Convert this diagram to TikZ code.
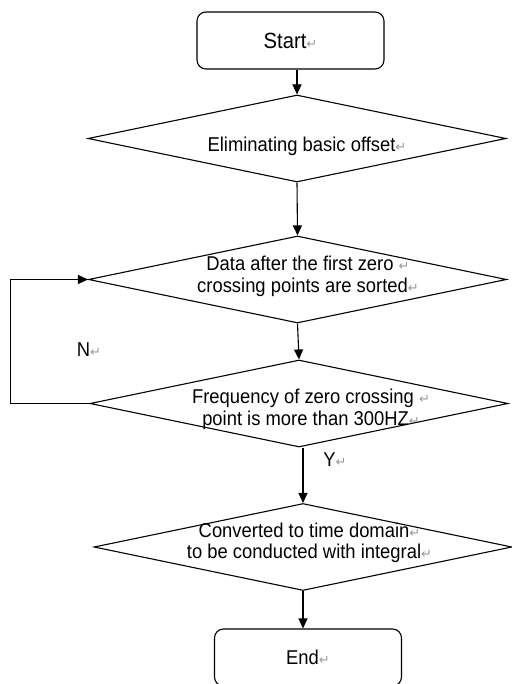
\documentclass[tikz,border=0pt]{standalone}
\usepackage{fontspec}
\setmainfont{Liberation Sans}[FakeStretch=0.92]
\newfontfamily\markfont{DejaVu Sans}
\usetikzlibrary{shapes.geometric,arrows.meta}
\newcommand\pmark{{\markfont\fontsize{13}{13}\selectfont\color{gray!80}↵}}

\begin{document}
\begin{tikzpicture}[y=-1pt,x=1pt,
	every node/.style={font=\fontsize{20}{21.5}\selectfont},
	terminal/.style={draw, line width=1.1pt, rounded corners=9, minimum width=187, minimum height=57, inner sep=0},
	decision/.style={draw, line width=1.1pt, diamond, aspect=4.8, minimum width=418, minimum height=87, inner sep=0},
	txt/.style={align=center, inner sep=0},
	flow/.style={line width=1.1pt, -{Triangle[length=10,width=9]}}]
	\useasboundingbox (0,0) rectangle (511,684);

	% boxes
	\node[terminal, font=\fontsize{22}{22}\selectfont] (start) at (290.5,40.5) {Start\pmark};
	\node[decision] (elim) at (297,138.5) {};
	\node[decision] (sort) at (297.5,279.5) {};
	\node[decision] (freq) at (299,403.5) {};
	\node[decision] (conv) at (303,547) {};
	\node[terminal] (end) at (308,657.5) {End\pmark};

	% texts of the diamonds
	\node[txt] (elim-t) at (307,146) {Eliminating basic offset\pmark};
	\node[txt] (sort-t) at (308,276.5) {Data after the first zero \pmark\\crossing points are sorted\pmark};
	\node[txt] (freq-t) at (311,409.5) {Frequency of zero crossing \pmark\\point is more than 300HZ\pmark};
	\node[txt] (conv-t) at (309.5,543) {Converted to time domain\pmark\\to be conducted with integral\pmark};

	\node[txt] (lblN) at (89,350) {N\pmark};
	\node[txt] (lblY) at (335,460) {Y\pmark};

	% connectors
	\draw[flow] (start.south -| elim.north) -- (elim.north);
	\draw[flow] (elim.south) -- (sort.north);
	\draw[flow] (sort.south) -- (freq.north);
	\draw[flow] (freq.south -| conv.north) -- (conv.north);
	\draw[flow] (conv.south) -- (conv.south |- end.north);
	\draw[flow] (freq.west) -- ++(-79,0) |- (sort.west);
\end{tikzpicture}
\end{document}
